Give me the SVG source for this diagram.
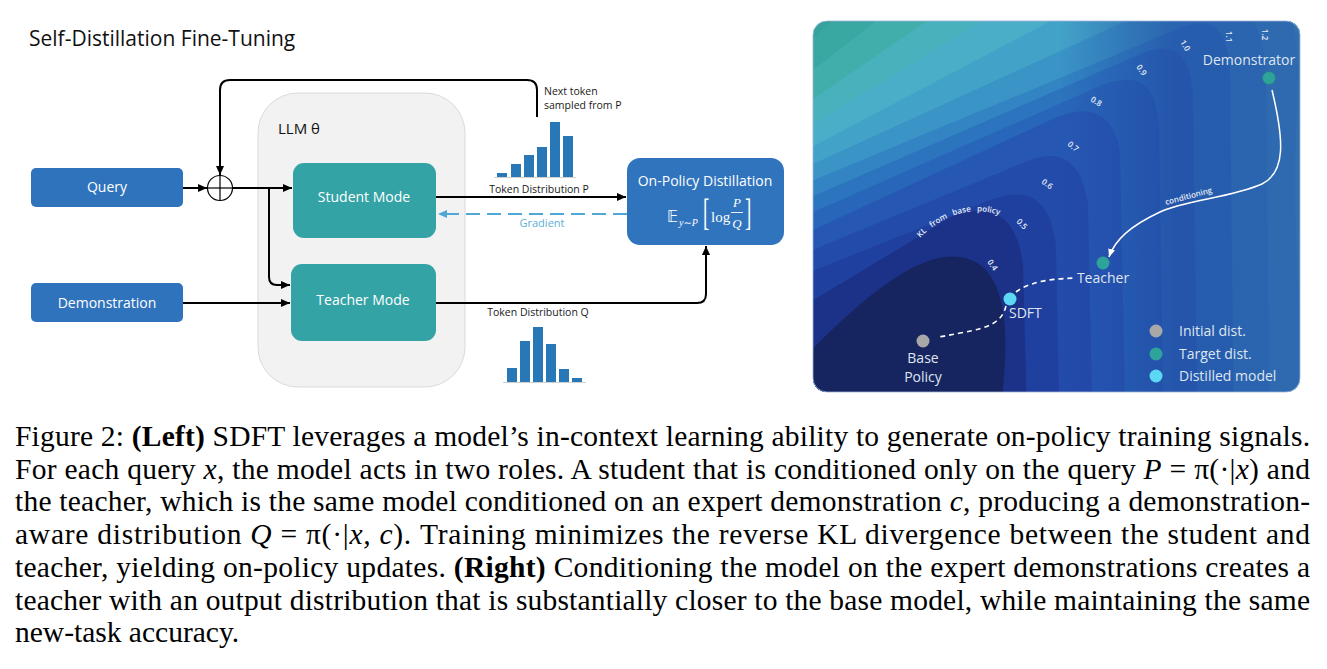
<svg xmlns="http://www.w3.org/2000/svg" width="1327" height="669" viewBox="0 0 1327 669">
<style>
.sans{font-family:"Open Sans","Liberation Sans",sans-serif}
.btxt{font-family:"Open Sans","Liberation Sans",sans-serif;font-size:14px;fill:#ffffff;text-anchor:middle}
.lbl{font-family:"Open Sans","Liberation Sans",sans-serif;font-size:10.5px;fill:#1a1a1a}
.conn{fill:none;stroke:#000;stroke-width:2}
.bar{fill:#2878B8}
.axis{stroke:#d0d0d0;stroke-width:1}
.cap{font-family:"Liberation Serif","Times New Roman",serif;font-size:29.5px;fill:#000}
.mi{font-style:italic}
.bf{font-weight:bold}
.clab{font-family:"Open Sans","Liberation Sans",sans-serif;font-size:8px;font-weight:600;fill:#e6ecf5}
.rtxt{font-family:"Open Sans","Liberation Sans",sans-serif;font-size:14px;fill:#dfe6f0}
.dash{fill:none;stroke:#ffffff;stroke-width:1.6;stroke-dasharray:5 4}
</style>
<defs>
<marker id="ah" markerUnits="userSpaceOnUse" markerWidth="9" markerHeight="8" refX="9" refY="4" orient="auto"><path d="M0,0 L9,4 L0,8 z" fill="#000"/></marker>
<marker id="ahb" markerUnits="userSpaceOnUse" markerWidth="9" markerHeight="8" refX="9" refY="4" orient="auto"><path d="M0,0 L9,4 L0,8 z" fill="#4FA7D4"/></marker>
<marker id="ahw" markerUnits="userSpaceOnUse" markerWidth="8" markerHeight="7" refX="8" refY="3.5" orient="auto"><path d="M0,0 L8,3.5 L0,7 z" fill="#fff"/></marker>
<clipPath id="pclip"><rect x="813" y="21" width="487" height="371" rx="14"/></clipPath>
<linearGradient id="rshade" gradientUnits="userSpaceOnUse" x1="1060" y1="0" x2="1175" y2="0">
<stop offset="0" stop-color="#1E3C9C" stop-opacity="0"/>
<stop offset="1" stop-color="#1E3C9C" stop-opacity="0.55"/>
</linearGradient>
</defs>
<rect width="1327" height="669" fill="#fff"/>

<!-- LEFT DIAGRAM -->
<text class="sans" x="29" y="46" font-size="21" fill="#111">Self-Distillation Fine-Tuning</text>

<g id="llm">
<rect x="258" y="93" width="207" height="294" rx="40" fill="#F2F2F2" stroke="#DADADA" stroke-width="1"/>
<text class="sans" x="278" y="134" font-size="15" fill="#111">LLM θ</text>
</g>

<g id="query"><rect x="31" y="168" width="152" height="39" rx="5" fill="#2F73BD"/><text class="btxt" x="107" y="192">Query</text></g>
<g id="demonstration"><rect x="31" y="283" width="152" height="39" rx="5" fill="#2F73BD"/><text class="btxt" x="107" y="308">Demonstration</text></g>
<g id="student"><rect x="293" y="163" width="143" height="75" rx="11" fill="#33A3A6"/><text class="btxt" x="364" y="202">Student Mode</text></g>
<g id="teacher"><rect x="291" y="264" width="145" height="77" rx="11" fill="#33A3A6"/><text class="btxt" x="363" y="305">Teacher Mode</text></g>
<g id="opd">
<rect x="627" y="158" width="157" height="87" rx="13" fill="#3074BE"/>
<text class="btxt" x="705" y="186" font-size="14">On-Policy Distillation</text>
<g font-family="'Liberation Serif','DejaVu Serif',serif" fill="#fff">
<text x="667" y="222" font-size="15" font-family="'DejaVu Sans',sans-serif">𝔼</text>
<text x="679" y="226" font-size="10" font-style="italic">y∼P</text>
<text transform="translate(703,225) scale(0.5,1)" font-size="38">[</text>
<text x="711" y="222" font-size="15">log</text>
<text x="737" y="207" font-size="13" font-style="italic" text-anchor="middle">P</text>
<line x1="731" y1="212.5" x2="743" y2="212.5" stroke="#fff" stroke-width="0.9"/>
<text x="737" y="228" font-size="13" font-style="italic" text-anchor="middle">Q</text>
<text transform="translate(745,225) scale(0.5,1)" font-size="38">]</text>
</g>
</g>

<g id="oplus"><circle cx="220" cy="188" r="12.5" fill="#fff" stroke="#000" stroke-width="1.2"/><line x1="207.5" y1="188" x2="232.5" y2="188" stroke="#000" stroke-width="1.2"/><line x1="220" y1="175.5" x2="220" y2="200.5" stroke="#000" stroke-width="1.2"/></g>

<g id="histP">
<line class="axis" x1="494" y1="177.5" x2="576" y2="177.5"/>
<rect class="bar" x="497" y="173" width="10" height="4"/>
<rect class="bar" x="511" y="164" width="10" height="13"/>
<rect class="bar" x="524" y="155" width="10" height="22"/>
<rect class="bar" x="537" y="147" width="10" height="30"/>
<rect class="bar" x="550" y="122" width="10" height="55"/>
<rect class="bar" x="563" y="136" width="10" height="41"/>
</g>
<g id="histQ">
<line class="axis" x1="503" y1="382.5" x2="586" y2="382.5"/>
<rect class="bar" x="507" y="368" width="10" height="14"/>
<rect class="bar" x="520" y="341" width="10" height="41"/>
<rect class="bar" x="533" y="327" width="10" height="55"/>
<rect class="bar" x="546" y="344" width="10" height="38"/>
<rect class="bar" x="559" y="369" width="10" height="13"/>
<rect class="bar" x="572" y="378" width="10" height="4"/>
</g>

<g id="connectors">
<path class="conn" d="M537,117 L537,90 Q537,80 527,80 L230,80 Q220,80 220,90 L220,175" marker-end="url(#ah)"/>
<path class="conn" d="M183,188 L207,188" marker-end="url(#ah)"/>
<path class="conn" d="M232.5,188 L292,188" marker-end="url(#ah)"/>
<path class="conn" d="M269,188 L269,277 Q269,285 277,285 L290,285" marker-end="url(#ah)"/>
<path class="conn" d="M183,303 L290,303" marker-end="url(#ah)"/>
<path class="conn" d="M436,197 L626,197" marker-end="url(#ah)"/>
<path d="M627,214 L438,214" fill="none" stroke="#4FA7D4" stroke-width="2" stroke-dasharray="14 7" marker-end="url(#ahb)"/>
<path class="conn" d="M436,303 L697,303 Q706,303 706,294 L706,246" marker-end="url(#ah)"/>
</g>
<text class="lbl" x="544" y="95">Next token</text>
<text class="lbl" x="544" y="109">sampled from P</text>
<text class="lbl" x="539" y="193" text-anchor="middle">Token Distribution P</text>
<text class="lbl" x="542" y="227" text-anchor="middle" style="fill:#5AAFD6;font-size:11px">Gradient</text>
<text class="lbl" x="538" y="316" text-anchor="middle">Token Distribution Q</text>

<!-- RIGHT PANEL -->
<g id="landscape" clip-path="url(#pclip)">
<rect x="800" y="0" width="520" height="420" fill="#35A29B"/>
<path fill="#3AA8A2" d="M800,50 L860,-5 L1400,-50 L1400,450 L800,450 Z"/>
<path fill="#41AEAC" d="M800,80 L910,-5 L1400,-50 L1400,450 L800,450 Z"/>
<path fill="#48B1BC" d="M800,108 L965,-5 L1400,-50 L1400,450 L800,450 Z"/>
<path fill="#4BAEC8" d="M800,132 L1025,-5 L1400,-50 L1400,450 L800,450 Z"/>
<path fill="#43A2C8" d="M800,153 L1100,-5 C1280,-50 1300,0 1298,80 C1295,160 1290,240 1312,450 L800,450 Z"/>
<path fill="#3A94C6" d="M800,170 L1150,10 C1240,-20 1264,10 1266,80 L1270,450 L800,450 Z"/>
<path fill="#3284C3" d="M800,186 L1180,28 C1215,15 1228,30 1230,75 L1234,450 L800,450 Z"/>
<path fill="#2C74BE" d="M800,202 L1145,52 C1175,41 1190,55 1193,95 L1198,450 L800,450 Z"/>
<path fill="#2866B9" d="M800,218 L1100,86 C1135,72 1155,80 1159,125 L1164,450 L800,450 Z"/>
<path fill="#2658B3" d="M800,236 L1055,118 C1088,104 1112,110 1120,152 L1126,450 L800,450 Z"/>
<path fill="#234BAA" d="M800,255 L1030,160 C1062,148 1082,162 1088,205 L1093,450 L800,450 Z"/>
<path fill="#2040A0" d="M800,276 L990,200 C1030,185 1050,200 1056,245 L1060,450 L800,450 Z"/>
<path fill="#1C3288" d="M800,308 L900,248 C925,233 945,218 962,213 C998,204 1018,222 1023,265 L1028,450 L800,450 Z"/>
<path fill="#16245F" d="M800,362 C840,320 900,262 945,257 C988,252 1003,288 1005,330 C1007,360 1002,385 1000,450 L800,450 Z"/>
<rect x="1040" y="0" width="290" height="420" fill="url(#rshade)"/>
</g>
<rect x="813" y="21" width="487" height="371" rx="14" fill="none" stroke="#9FB4D8" stroke-width="0.8"/>

<g id="contour-labels">
<text class="clab" transform="translate(987,262) rotate(55)">0.4</text>
<text class="clab" transform="translate(1016,222) rotate(45)">0.5</text>
<text class="clab" transform="translate(1041,183) rotate(35)">0.6</text>
<text class="clab" transform="translate(1067,145) rotate(40)">0.7</text>
<text class="clab" transform="translate(1090,101) rotate(30)">0.8</text>
<text class="clab" transform="translate(1136,67) rotate(55)">0.9</text>
<text class="clab" transform="translate(1180,42) rotate(60)">1.0</text>
<text class="clab" transform="translate(1226,31) rotate(90)">1.1</text>
<text class="clab" transform="translate(1262,29) rotate(90)">1.2</text>
<path id="klpath" d="M920,238 Q962,196 1012,220" fill="none"/>
<text class="clab" font-size="8.5" word-spacing="4"><textPath href="#klpath">KL from base policy</textPath></text>
<text class="clab" font-size="9" transform="translate(1166,205) rotate(-15)">conditioning</text>
</g>

<g id="paths">
<path d="M1272,90 C1284,140 1286,172 1262,184 C1230,198 1185,200 1160,212 C1130,226 1115,240 1109,257" fill="none" stroke="#fff" stroke-width="1.5" marker-end="url(#ahw)"/>
<path class="dash" d="M1016,292 C1028,283 1045,279 1075,278"/>
<path class="dash" d="M1006,306 C1002,322 990,328 960,333 C950,335 945,336 938,337"/>
</g>

<g id="demonstrator"><circle cx="1269" cy="78" r="6.5" fill="#2DA39A" stroke="#1f7f78" stroke-width="0.6"/><text class="rtxt" x="1249" y="65" text-anchor="middle">Demonstrator</text></g>
<g id="teacher-pt"><circle cx="1103" cy="263" r="6.5" fill="#2DA39A"/><text class="rtxt" x="1103" y="283" text-anchor="middle">Teacher</text></g>
<g id="sdft-pt"><circle cx="1010" cy="299" r="6.5" fill="#5CD8F5"/><text class="rtxt" x="1009" y="318">SDFT</text></g>
<g id="base-pt"><circle cx="923" cy="341" r="6.5" fill="#A8A8A8"/><text class="rtxt" x="923" y="363" text-anchor="middle">Base</text><text class="rtxt" x="923" y="382" text-anchor="middle">Policy</text></g>
<g id="legend">
<circle cx="1156" cy="331" r="6.5" fill="#A8A8A8"/><text class="rtxt" x="1179" y="336">Initial dist.</text>
<circle cx="1156" cy="354" r="6.5" fill="#2DA39A"/><text class="rtxt" x="1179" y="359">Target dist.</text>
<circle cx="1156" cy="376" r="6.5" fill="#5CD8F5"/><text class="rtxt" x="1179" y="381">Distilled model</text>
</g>

<!-- CAPTION -->
<g id="caption">
<text class="cap" x="15" y="446" textLength="1295" lengthAdjust="spacing">Figure 2: <tspan class="bf">(Left)</tspan> SDFT leverages a model’s in-context learning ability to generate on-policy training signals.</text>
<text class="cap" x="15" y="478.7" textLength="1295" lengthAdjust="spacing">For each query <tspan class="mi">x</tspan>, the model acts in two roles. A student that is conditioned only on the query <tspan class="mi">P</tspan> = π(·|<tspan class="mi">x</tspan>) and</text>
<text class="cap" x="15" y="511.4" textLength="1295" lengthAdjust="spacing">the teacher, which is the same model conditioned on an expert demonstration <tspan class="mi">c</tspan>, producing a demonstration-</text>
<text class="cap" x="15" y="544.1" textLength="1295" lengthAdjust="spacing">aware distribution <tspan class="mi">Q</tspan> = π(·|<tspan class="mi">x, c</tspan>). Training minimizes the reverse KL divergence between the student and</text>
<text class="cap" x="15" y="576.8" textLength="1295" lengthAdjust="spacing">teacher, yielding on-policy updates. <tspan class="bf">(Right)</tspan> Conditioning the model on the expert demonstrations creates a</text>
<text class="cap" x="15" y="609.5" textLength="1295" lengthAdjust="spacing">teacher with an output distribution that is substantially closer to the base model, while maintaining the same</text>
<text class="cap" x="15" y="642">new-task accuracy.</text>
</g>
</svg>
